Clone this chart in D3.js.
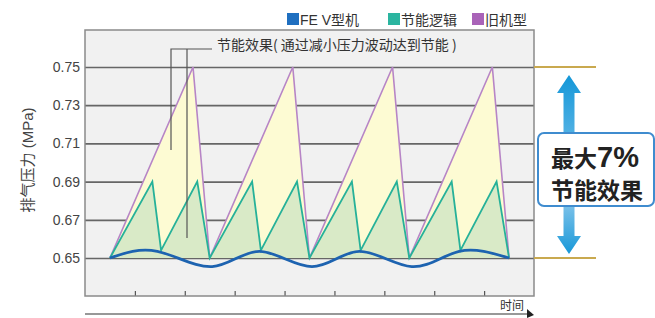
<!DOCTYPE html>
<html>
<head>
<meta charset="utf-8">
<script src="https://cdn.jsdelivr.net/npm/d3@7"></script>
<style>
  body { margin: 0; background: #fff; }
  svg { display: block; font-family: "Liberation Sans", "Noto Sans CJK SC", sans-serif; }
</style>
</head>
<body>
<div id="chart"></div>
<script>
// series names for legend
const seriesNames = ["FE V型机", "节能逻辑", "旧机型"];
const seriesColors = ["#1f6fc0", "#2bb5a0", "#a963b8"];

// old model: sawtooth
const oldT = [1, 4.33, 5, 8.33, 9, 12.33, 13, 16.33, 17];
const oldP = [0.65, 0.75, 0.65, 0.75, 0.65, 0.75, 0.65, 0.75, 0.65];

// energy-saving logic
const logicT = [1, 2.7, 3.05, 4.5, 5, 6.7, 7.05, 8.5, 9, 10.7, 11.05, 12.5, 13, 14.7, 15.05, 16.5, 17];
const logicP = [0.65, 0.69, 0.654, 0.69, 0.65, 0.69, 0.654, 0.69, 0.65, 0.69, 0.654, 0.69, 0.65, 0.69, 0.654, 0.69, 0.65];

// FE V model: small wave around 0.65
const feT = [1, 2.9, 5.1, 7, 9.1, 11, 13.1, 15, 17];
const feP = [0.65, 0.6535, 0.6455, 0.6535, 0.6455, 0.6535, 0.6455, 0.6535, 0.65];

const yTicks = [0.65, 0.67, 0.69, 0.71, 0.73, 0.75];
const xTicks = [2, 4, 6, 8, 10, 12, 14, 16];

const W = 655, H = 318;
const frame = {left: 85, top: 30, right: 534, bottom: 296};

const svg = d3.select("#chart").append("svg")
  .attr("width", W).attr("height", H);

const x = d3.scaleLinear().domain([0, 18]).range([frame.left, frame.right]);
const y = d3.scaleLinear().domain([0.65, 0.75]).range([258, 67]);

// plot background
svg.append("rect")
  .attr("x", frame.left).attr("y", frame.top)
  .attr("width", frame.right - frame.left).attr("height", frame.bottom - frame.top)
  .attr("fill", "#f1f1f1");

// gridlines + labels
const yAxis = svg.append("g")
  .attr("transform", "translate(" + frame.left + ",0)")
  .call(d3.axisLeft(y).tickValues(yTicks).tickSize(-(frame.right - frame.left)).tickPadding(5).tickFormat(d3.format(".2f")));
yAxis.select(".domain").remove();
yAxis.selectAll("line").attr("stroke", "#666").attr("stroke-width", 1.7);
yAxis.selectAll("text").attr("font-size", 14).attr("fill", "#444")
  .attr("font-family", "Liberation Sans, sans-serif");

// bottom inner ticks
const xAxis = svg.append("g")
  .attr("transform", "translate(0," + frame.bottom + ")")
  .call(d3.axisBottom(x).tickValues(xTicks).tickSize(-5).tickFormat(""));
xAxis.select(".domain").remove();
xAxis.selectAll("line").attr("stroke", "#555").attr("stroke-width", 1.2);

const oldData = oldT.map((t, i) => [t, oldP[i]]);
const logicData = logicT.map((t, i) => [t, logicP[i]]);
const feData = feT.map((t, i) => [t, feP[i]]);

const area = d3.area().x(d => x(d[0])).y0(y(0.65)).y1(d => y(d[1]));
const line = d3.line().x(d => x(d[0])).y(d => y(d[1]));

svg.append("path").attr("d", area(oldData)).attr("fill", "#fdfbd3");
svg.append("path").attr("d", area(logicData)).attr("fill", "#d9eac7");
svg.append("path").attr("d", line(oldData)).attr("fill", "none")
  .attr("stroke", "#b785c6").attr("stroke-width", 1.6);
svg.append("path").attr("d", line(logicData)).attr("fill", "none")
  .attr("stroke", "#26b199").attr("stroke-width", 1.8);
svg.append("path")
  .attr("d", d3.line().x(d => x(d[0])).y(d => y(d[1])).curve(d3.curveNatural)(feData))
  .attr("fill", "none").attr("stroke", "#1d63b0").attr("stroke-width", 2.8);

// frame border
svg.append("rect")
  .attr("x", frame.left).attr("y", frame.top)
  .attr("width", frame.right - frame.left).attr("height", frame.bottom - frame.top)
  .attr("fill", "none").attr("stroke", "#8a8a8a").attr("stroke-width", 1.5);

// annotation
svg.append("path")
  .attr("d", "M171,150V49H212M187,49V238")
  .attr("fill", "none").attr("stroke", "#555").attr("stroke-width", 1.2);
svg.append("text")
  .attr("x", 217).attr("y", 50)
  .attr("font-size", 14).attr("fill", "#333")
  .attr("font-family", "Noto Sans CJK SC, sans-serif")
  .text("节能效果( 通过减小压力波动达到节能 )");

// legend
const legendX = [287, 388, 472];
seriesNames.forEach((n, i) => {
  svg.append("rect").attr("x", legendX[i]).attr("y", 13).attr("width", 12).attr("height", 12)
    .attr("fill", seriesColors[i]);
  svg.append("text").attr("x", legendX[i] + 13).attr("y", 25)
    .attr("font-size", 14).attr("fill", "#333").text(n);
});

// y axis title
svg.append("text")
  .attr("transform", "translate(33,160) rotate(-90)")
  .attr("text-anchor", "middle").attr("font-size", 15).attr("fill", "#444")
  .text("排气压力 (MPa)");

// time arrow
svg.append("line").attr("x1", frame.left).attr("x2", 530).attr("y1", 314).attr("y2", 314)
  .attr("stroke", "#333").attr("stroke-width", 1.2);
svg.append("path").attr("d", "M527,309L534,315L527,318Z").attr("fill", "#222");
svg.append("text").attr("x", 500).attr("y", 310).attr("font-size", 12).attr("fill", "#333").text("时间");

// right side: gold reference lines
[0.75, 0.65].forEach(v => {
  svg.append("line").attr("x1", frame.right).attr("x2", 596).attr("y1", y(v)).attr("y2", y(v))
    .attr("stroke", "#c9a94f").attr("stroke-width", 1.8);
});

// double arrow with gradient
const defs = svg.append("defs");
const grad = defs.append("linearGradient").attr("id", "arrowGrad")
  .attr("x1", 0).attr("y1", 0).attr("x2", 0).attr("y2", 1);
grad.append("stop").attr("offset", "0%").attr("stop-color", "#1497d8");
grad.append("stop").attr("offset", "40%").attr("stop-color", "#5db6e6");
grad.append("stop").attr("offset", "60%").attr("stop-color", "#a8d4f1");
grad.append("stop").attr("offset", "100%").attr("stop-color", "#1898d8");

const ax = 569, aTop = y(0.75) + 8, aBot = y(0.65) - 4;
svg.append("path")
  .attr("d", `M${ax},${aTop} L${ax + 12},${aTop + 18} L${ax + 5.5},${aTop + 18} L${ax + 5.5},${aBot - 18} L${ax + 12},${aBot - 18} L${ax},${aBot} L${ax - 12},${aBot - 18} L${ax - 5.5},${aBot - 18} L${ax - 5.5},${aTop + 18} L${ax - 12},${aTop + 18} Z`)
  .attr("fill", "url(#arrowGrad)");

// callout box
svg.append("rect").attr("x", 538).attr("y", 133).attr("width", 116).attr("height", 73).attr("rx", 6)
  .attr("fill", "#fff").attr("stroke", "#3f8ccf").attr("stroke-width", 2);
const t1 = svg.append("text").attr("x", 551).attr("y", 167).attr("fill", "#222").attr("font-weight", "bold");
t1.append("tspan").attr("font-size", 23).attr("font-family", "Noto Sans CJK SC, sans-serif").text("最大");
t1.append("tspan").attr("font-size", 29).attr("font-family", "Liberation Sans, sans-serif").text("7%");
svg.append("text").attr("x", 551).attr("y", 199).attr("fill", "#222").attr("font-weight", "bold")
  .attr("font-size", 23).attr("font-family", "Noto Sans CJK SC, sans-serif").text("节能效果");
</script>
</body>
</html>
